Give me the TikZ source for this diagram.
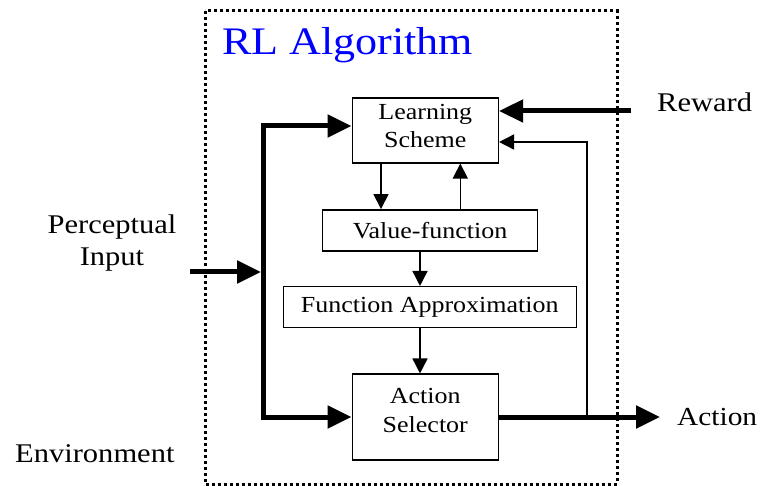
\documentclass[tikz,border=0pt]{standalone}
\usepackage{fontspec}
\setmainfont{Liberation Serif}[FakeStretch=1.13]
\usetikzlibrary{arrows.meta,calc}

% stacked lines lifted by #1 without changing the box size
\newcommand{\liftlines}[2]{\raisebox{#1}[\height][\depth]{\begin{tabular}{@{}c@{}}#2\end{tabular}}}

\tikzset{
  box/.style={draw, line width=1.5pt, align=center, inner sep=0pt,
              font=\fontsize{23}{28.5}\selectfont},
  thinarrow/.style={line width=1.6pt, -{Triangle[length=15pt,width=15pt]}},
  thickline/.style={line width=5pt},
  thickarrow/.style={line width=5pt, -{Triangle[length=24pt,width=22pt]}},
  outer/.style={font=\fontsize{27}{32}\selectfont, align=center, inner sep=0pt},
  frame/.style={line width=3pt, dash pattern=on 3pt off 3pt}
}

\begin{document}
\begin{tikzpicture}[x=1pt, y=-1pt]
\useasboundingbox (0,0) rectangle (760,486);

% agent boundary
\draw[frame] (205,11) rectangle (617,484);
\node[anchor=base west, inner sep=0pt, text=blue,
      font=\fontsize{39}{44}\selectfont] (title) at (222,55) {RL Algorithm};

% processing blocks
\node[box, minimum width=146pt, minimum height=65pt] (ls) at (425.3,130.3)
  {\liftlines{2.5pt}{Learning\\Scheme}};
\node[box, minimum width=215pt, minimum height=41pt] (vf) at (430,230.3)
  {Value-function};
\node[box, minimum width=293pt, minimum height=41pt] (fa) at (429.8,307.2)
  {Function Approximation};
\node[box, minimum width=146pt, minimum height=86pt] (as) at (425.3,417.2)
  {\liftlines{5pt}{Action\\Selector}};

% outside labels
\node[outer] (perc) at (112,243) {Perceptual\\Input};
\node[outer, anchor=base west] (rew) at (657,112) {Reward};
\node[outer, anchor=base west, font=\fontsize{26}{30}\selectfont] (act) at (677,425) {Action};
\node[outer, anchor=base west] (env) at (15,462) {Environment};

% internal flow
\coordinate (lsDown) at (381,130);
\coordinate (vfUp) at (460.3,230);
\coordinate (vfDown) at (420,230);
\draw[thinarrow] (lsDown |- ls.south) -- (lsDown |- vf.north);
\draw[thinarrow] (vfUp |- vf.north) -- (vfUp |- ls.south);
\draw[thinarrow] (vfDown |- vf.south) -- (vfDown |- fa.north);
\draw[thinarrow] (vfDown |- fa.south) -- (vfDown |- as.north);

% perceptual input bus
\coordinate (barTop) at (263,126);
\coordinate (barBot) at (263,417);
\coordinate (pStart) at (190,272);
\coordinate (pEnd) at (261,272);
\draw[thickline, line join=miter, {Triangle[length=24pt,width=22pt]}-{Triangle[length=24pt,width=22pt]}]
  (barTop -| ls.west) -- (barTop) -- (barBot) -- (barBot -| as.west);
\draw[thickarrow] (pStart) -- (pEnd);

% reward input
\coordinate (rStart) at (631,111);
\draw[thickarrow] (rStart) -- (rStart -| ls.east);

% action feedback to learning
\coordinate (fbBot) at (587,417);
\coordinate (fbTop) at (587,142);
\draw[thinarrow] (fbBot) -- (fbTop) -- (fbTop -| ls.east);

% action output
\coordinate (aEnd) at (660,417);
\draw[thickarrow] (as.east |- aEnd) -- (aEnd);
\end{tikzpicture}
\end{document}
